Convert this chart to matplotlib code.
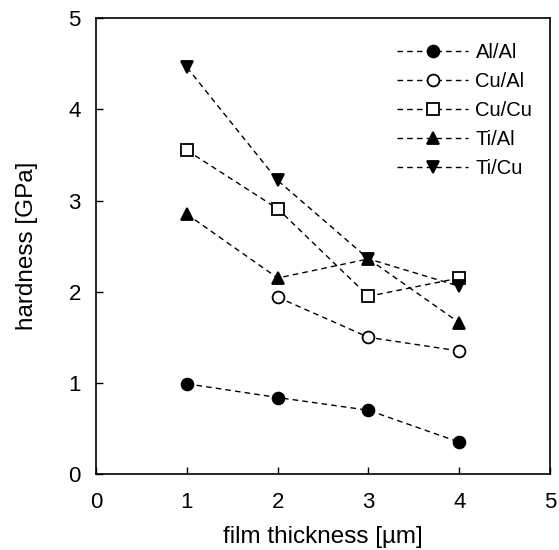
import matplotlib
matplotlib.use("Agg")
import matplotlib.pyplot as plt

plt.rcParams['font.family'] = ['Liberation Sans', 'DejaVu Sans']

thickness = [1, 2, 3, 4]
al_al = [0.99, 0.84, 0.70, 0.35]
cu_al_x = [2, 3, 4]
cu_al = [1.94, 1.50, 1.35]
cu_cu = [3.55, 2.91, 1.95, 2.15]
ti_al = [2.85, 2.15, 2.36, 1.66]
ti_cu = [4.46, 3.22, 2.36, 2.06]

fig = plt.figure(figsize=(5.59, 5.5), dpi=100)
ax = fig.add_axes([0.172, 0.138, 0.812, 0.829])

ls = (0, (4, 3))
kw = dict(color='black', lw=1.0, linestyle=ls, markersize=8.5, markeredgewidth=1.3)
ax.plot(thickness, al_al, marker='o', mfc='black', mec='black', label='Al/Al', **kw)
ax.plot(cu_al_x, cu_al, marker='o', mfc='white', mec='black', label='Cu/Al', **kw)
ax.plot(thickness, cu_cu, marker='s', mfc='white', mec='black', label='Cu/Cu', **kw)
ax.plot(thickness, ti_al, marker='^', mfc='black', mec='black', label='Ti/Al', **kw)
ax.plot(thickness, ti_cu, marker='v', mfc='black', mec='black', label='Ti/Cu', **kw)

ax.set_xlim(0, 5)
ax.set_ylim(0, 5)
ax.set_xticks(range(6))
ax.set_yticks(range(6))
ax.tick_params(direction='in', length=5, width=1, labelsize=16)
ax.tick_params(axis='x', pad=13)
ax.tick_params(axis='y', pad=11)
for s in ax.spines.values():
    s.set_linewidth(1.2)

ax.set_xlabel('film thickness [µm]', fontsize=17.5, labelpad=9)
ax.set_ylabel('hardness [GPa]', fontsize=17.5, labelpad=22)

ax.legend(loc='upper right', bbox_to_anchor=(1.012, 0.997), frameon=False,
          fontsize=14.5, handlelength=3.55, labelspacing=0.5,
          handletextpad=0.35, borderaxespad=0.75)

fig.savefig('out.png', dpi=100)
